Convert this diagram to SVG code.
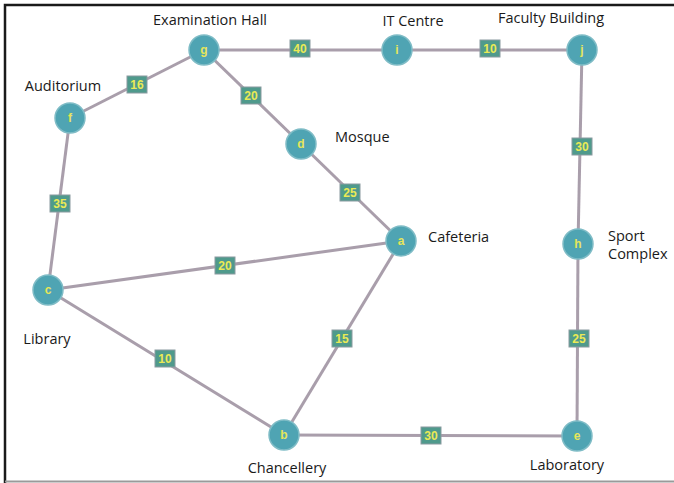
<svg xmlns="http://www.w3.org/2000/svg" width="674" height="483" viewBox="0 0 674 483">
<style>
.edge{stroke:#a99eab;stroke-width:3;fill:none}
.node circle{fill:#4fa4b3;stroke:#7fbcc6;stroke-width:1.5}
.node text{font-family:"Liberation Sans",Arial,sans-serif;font-size:12px;font-weight:bold;fill:#e6e65a;text-anchor:middle}
.w rect{fill:#4f9a8c;stroke:#8a9aa0;stroke-width:1}
.w text{font-family:"Liberation Sans",Arial,sans-serif;font-size:12px;font-weight:bold;fill:#eaea55;text-anchor:middle}
.lbl{font-family:"Open Sans","Liberation Sans",sans-serif;font-size:14.5px;fill:#1a1a1a}
</style>
<rect width="674" height="483" fill="#fff"/>
<path d="M5,483 V5 H674" stroke="#1a1a1a" stroke-width="2.5" fill="none"/>
<line x1="5" y1="481.5" x2="674" y2="481.5" stroke="#9a9a9a" stroke-width="2"/>
<g id="connectors">
<line class="edge" x1="204" y1="50" x2="397" y2="50"/>
<line class="edge" x1="397" y1="50" x2="582" y2="50"/>
<line class="edge" x1="70" y1="118" x2="204" y2="50"/>
<line class="edge" x1="204" y1="50" x2="301" y2="144"/>
<line class="edge" x1="301" y1="144" x2="401" y2="241"/>
<line class="edge" x1="582" y1="50" x2="578" y2="244"/>
<line class="edge" x1="70" y1="118" x2="48" y2="290"/>
<line class="edge" x1="48" y1="290" x2="401" y2="241"/>
<line class="edge" x1="578" y1="244" x2="577" y2="436"/>
<line class="edge" x1="401" y1="241" x2="284" y2="435"/>
<line class="edge" x1="48" y1="290" x2="284" y2="435"/>
<line class="edge" x1="284" y1="435" x2="577" y2="436"/>
<g class="w"><rect x="290" y="40" width="20" height="17"/><text x="300" y="53">40</text></g>
<g class="w"><rect x="480" y="40" width="20" height="17"/><text x="490" y="53">10</text></g>
<g class="w"><rect x="127" y="76" width="20" height="17"/><text x="137" y="89">16</text></g>
<g class="w"><rect x="241" y="87" width="20" height="17"/><text x="251" y="100">20</text></g>
<g class="w"><rect x="340" y="184" width="20" height="17"/><text x="350" y="197">25</text></g>
<g class="w"><rect x="572" y="138" width="20" height="17"/><text x="582" y="151">30</text></g>
<g class="w"><rect x="50" y="195" width="20" height="17"/><text x="60" y="208">35</text></g>
<g class="w"><rect x="215" y="257" width="20" height="17"/><text x="225" y="270">20</text></g>
<g class="w"><rect x="569" y="330" width="20" height="17"/><text x="579" y="343">25</text></g>
<g class="w"><rect x="332" y="330" width="20" height="17"/><text x="342" y="343">15</text></g>
<g class="w"><rect x="155" y="350" width="20" height="17"/><text x="165" y="363">10</text></g>
<g class="w"><rect x="421" y="427" width="20" height="17"/><text x="431" y="440">30</text></g>
</g>
<g id="node-g" class="node"><circle cx="204" cy="50" r="15"/><text x="204" y="54">g</text></g>
<g id="node-i" class="node"><circle cx="397" cy="50" r="15"/><text x="397" y="54">i</text></g>
<g id="node-j" class="node"><circle cx="582" cy="50" r="15"/><text x="582" y="54">j</text></g>
<g id="node-f" class="node"><circle cx="70" cy="118" r="15"/><text x="70" y="122">f</text></g>
<g id="node-d" class="node"><circle cx="301" cy="144" r="15"/><text x="301" y="148">d</text></g>
<g id="node-a" class="node"><circle cx="401" cy="241" r="15"/><text x="401" y="245">a</text></g>
<g id="node-h" class="node"><circle cx="578" cy="244" r="15"/><text x="578" y="248">h</text></g>
<g id="node-c" class="node"><circle cx="48" cy="290" r="15"/><text x="48" y="294">c</text></g>
<g id="node-b" class="node"><circle cx="284" cy="435" r="15"/><text x="284" y="439">b</text></g>
<g id="node-e" class="node"><circle cx="577" cy="436" r="15"/><text x="577" y="440">e</text></g>
<g id="labels">
<text class="lbl" x="210" y="25" text-anchor="middle">Examination Hall</text>
<text class="lbl" x="413" y="26" text-anchor="middle">IT Centre</text>
<text class="lbl" x="551" y="23" text-anchor="middle">Faculty Building</text>
<text class="lbl" x="63" y="91" text-anchor="middle">Auditorium</text>
<text class="lbl" x="335" y="142">Mosque</text>
<text class="lbl" x="428" y="242">Cafeteria</text>
<text class="lbl" x="608" y="241">Sport</text>
<text class="lbl" x="608" y="259">Complex</text>
<text class="lbl" x="47" y="344" text-anchor="middle">Library</text>
<text class="lbl" x="287" y="473" text-anchor="middle">Chancellery</text>
<text class="lbl" x="567" y="470" text-anchor="middle">Laboratory</text>
</g>
</svg>
